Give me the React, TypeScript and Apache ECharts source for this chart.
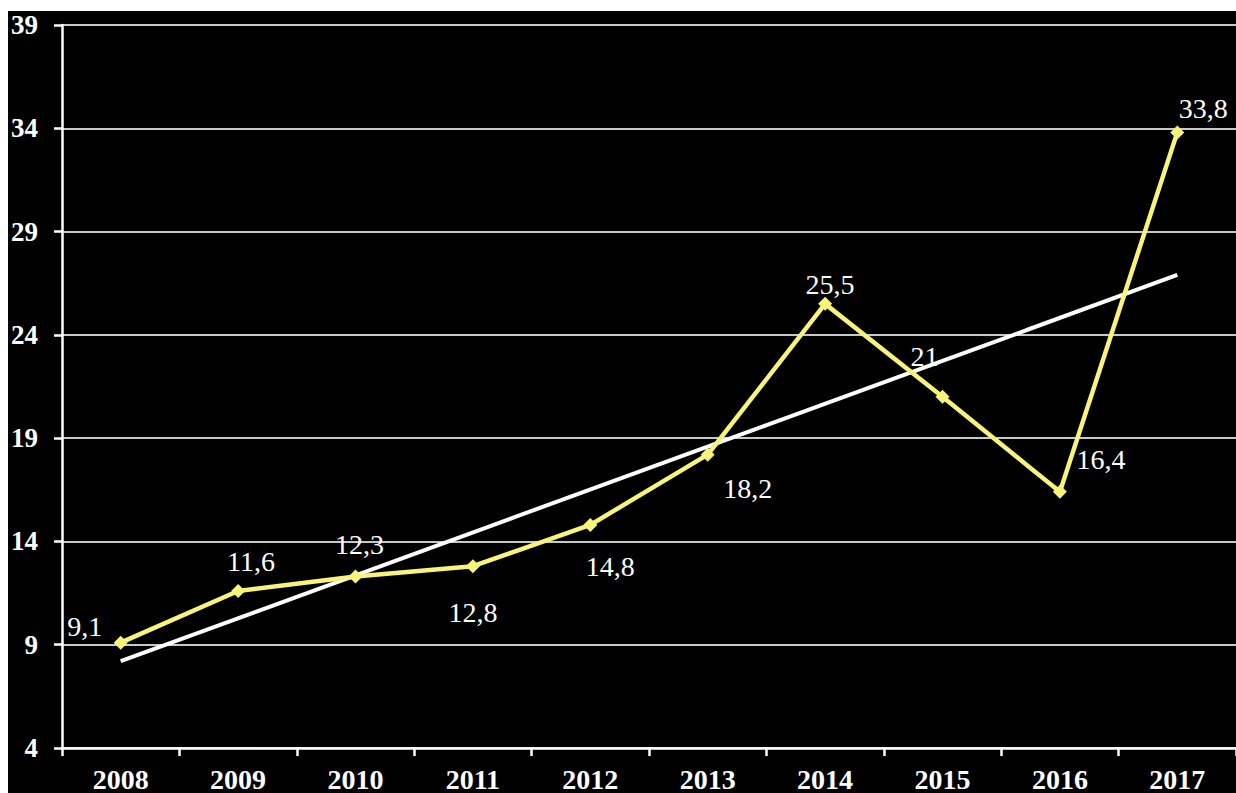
import React, { useEffect, useRef } from "react";
import * as echarts from "echarts";

const years = ["2008", "2009", "2010", "2011", "2012", "2013", "2014", "2015", "2016", "2017"];
const values = [9.1, 11.6, 12.3, 12.8, 14.8, 18.2, 25.5, 21, 16.4, 33.8];
const valueLabels = ["9,1", "11,6", "12,3", "12,8", "14,8", "18,2", "25,5", "21", "16,4", "33,8"];
// trend line: value at first and last year
const trendStart = 8.2;
const trendEnd = 26.9;

const yMin = 4;
const yMax = 39;
const yStep = 5;

// label placement (style) relative to each point
const labelOffsets: [number, number][] = [
  [-36, -16], [13, -30], [4, -32], [0, 46], [20, 42],
  [40, 34], [5, -19], [-18, -40], [41, -32], [26, -24],
];

export default function App() {
  const ref = useRef<HTMLDivElement>(null);
  useEffect(() => {
    if (!ref.current) return;
    const chart = echarts.init(ref.current, null, { renderer: "svg" });
    const serif = "'Liberation Serif', 'Times New Roman', serif";
    const trendData = years.map((_, i) =>
      i === 0 ? trendStart : i === years.length - 1 ? trendEnd : null
    );
    chart.setOption({
      animation: false,
      backgroundColor: "#000000",
      grid: { left: 53, right: 0, top: 14, bottom: 45, containLabel: false },
      xAxis: {
        type: "category",
        data: years,
        boundaryGap: true,
        axisLine: { show: true, lineStyle: { color: "#ffffff", width: 2.5 } },
        axisTick: { show: true, length: 8, lineStyle: { color: "#ffffff", width: 2.5 } },
        axisLabel: {
          color: "#ffffff",
          fontFamily: serif,
          fontWeight: "bold",
          fontSize: 28,
          margin: 17,
        },
        splitLine: { show: false },
      },
      yAxis: {
        type: "value",
        min: yMin,
        max: yMax,
        interval: yStep,
        axisLine: { show: true, lineStyle: { color: "#ffffff", width: 2.5 } },
        axisTick: { show: true, length: 8, lineStyle: { color: "#ffffff", width: 2.5 } },
        axisLabel: {
          color: "#ffffff",
          fontFamily: serif,
          fontWeight: "bold",
          fontSize: 27,
          margin: 24,
        },
        splitLine: { show: true, lineStyle: { color: "#c8c8c8", width: 2 } },
      },
      series: [
        {
          name: "trend",
          type: "line",
          data: trendData,
          connectNulls: true,
          showSymbol: false,
          symbol: "none",
          lineStyle: { color: "#ffffff", width: 4 },
          z: 2,
        },
        {
          name: "values",
          type: "line",
          data: values.map((v, i) => ({
            value: v,
            label: {
              show: true,
              position: "inside",
              offset: labelOffsets[i],
              formatter: valueLabels[i],
              color: "#ffffff",
              fontFamily: serif,
              fontSize: 28,
            },
          })),
          symbol: "diamond",
          symbolSize: 14,
          itemStyle: { color: "#f8f47a" },
          lineStyle: { color: "#f8f47a", width: 4.5 },
          z: 3,
        },
      ],
    });
    return () => chart.dispose();
  }, []);
  return (
    <div
      ref={ref}
      style={{ position: "fixed", left: 8, top: 11, width: 1228, height: 782, background: "#000" }}
    />
  );
}
